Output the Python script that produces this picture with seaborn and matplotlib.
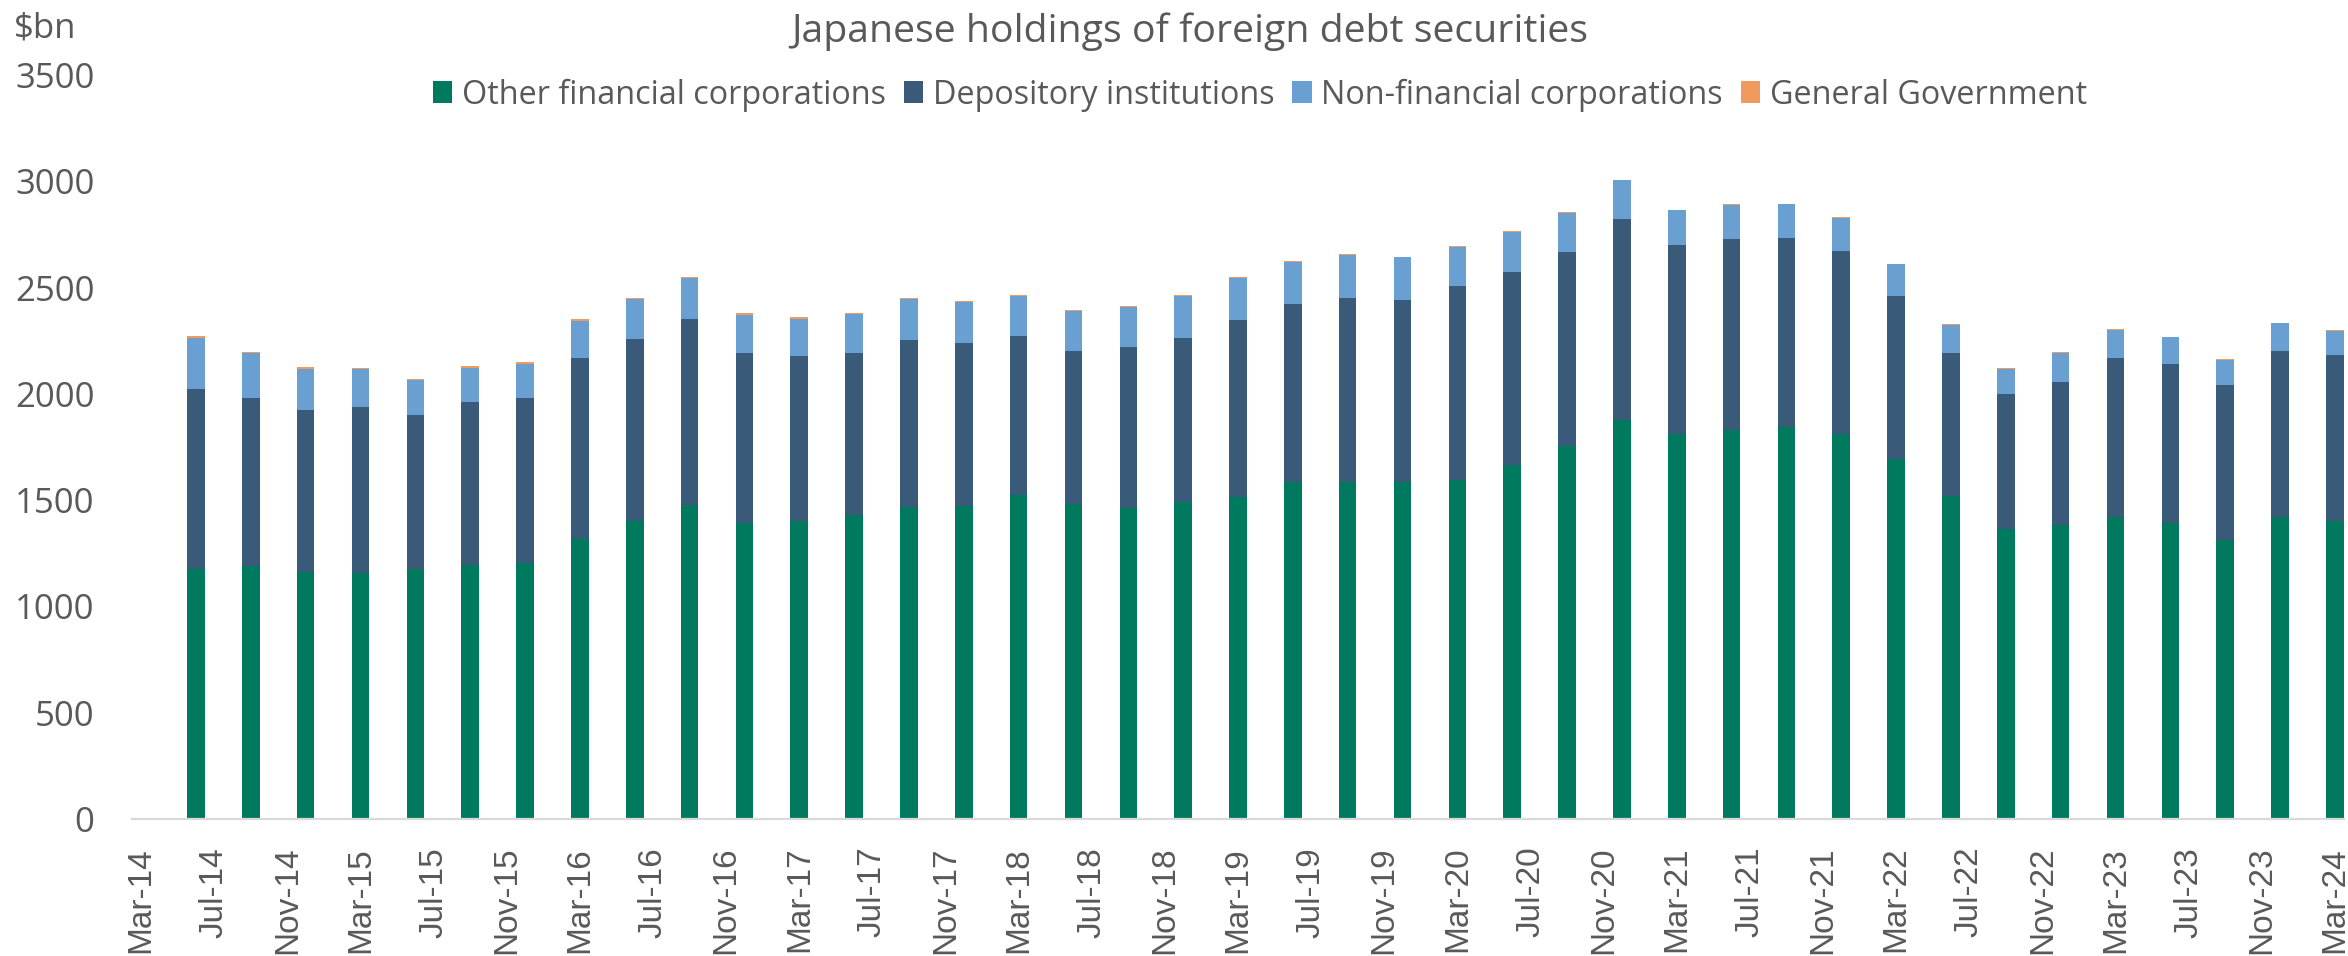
import matplotlib
matplotlib.use("Agg")
import matplotlib.pyplot as plt
from matplotlib.patches import Patch
import numpy as np
import pandas as pd
import seaborn as sns

# Quarter-end observations, Jun-14 .. Mar-24 ($bn)
quarters = pd.date_range("2014-06-01", "2024-03-01", freq="3MS")

other_financial = [1177, 1188, 1162, 1158, 1177, 1194, 1202, 1318, 1404, 1476,
                   1392, 1400, 1431, 1467, 1474, 1522, 1482, 1465, 1490, 1516,
                   1583, 1587, 1583, 1595, 1665, 1753, 1879, 1812, 1831, 1843,
                   1810, 1692, 1518, 1362, 1381, 1419, 1392, 1314, 1421, 1404]
depository = [847, 794, 763, 780, 723, 769, 780, 853, 856, 878,
              802, 776, 759, 788, 767, 748, 721, 756, 774, 830,
              841, 866, 860, 911, 908, 912, 942, 887, 897, 888,
              864, 769, 676, 637, 677, 752, 750, 729, 782, 778]
non_financial = [240, 210, 194, 177, 164, 160, 160, 173, 187, 192,
                 179, 178, 185, 192, 191, 189, 187, 189, 195, 197,
                 197, 200, 199, 187, 187, 187, 183, 164, 160, 161,
                 155, 148, 131, 120, 136, 131, 124, 118, 128, 115]
general_government = [6, 6, 6, 6, 6, 7, 6, 6, 6, 6,
                      6, 6, 6, 5, 5, 6, 5, 5, 6, 6,
                      5, 4, 3, 4, 4, 4, 4, 4, 3, 3,
                      4, 3, 3, 2, 2, 2, 2, 2, 2, 2]

series_names = ["Other financial corporations", "Depository institutions",
                "Non-financial corporations", "General Government"]
series_colors = ["#007A5E", "#3A5A79", "#6A9FD1", "#EF9B60"]

axis_start = pd.Timestamp("2014-03-01")
tick_dates = pd.date_range("2014-03-01", "2024-03-01", freq="4MS")
tick_labels = [d.strftime("%b-%y") for d in tick_dates]


def month_index(dates):
    return np.array([(d.year - axis_start.year) * 12 + d.month - axis_start.month
                     for d in dates], dtype=float)


TEXT = "#595959"
GRID = "#D9D9D9"
W, H = 2348, 956

sns.set_theme(style="white")
plt.rcParams["font.family"] = ["Open Sans", "DejaVu Sans"]

# each month occupies one slot; bars sit in the middle of their month's slot
x_centre = month_index(quarters) + 0.5

df = pd.DataFrame({
    "x": x_centre,
    "s1": np.array(other_financial),
    "s2": np.array(other_financial) + np.array(depository),
})
df["s3"] = df["s2"] + np.array(non_financial)
df["s4"] = df["s3"] + np.array(general_government)

fig = plt.figure(figsize=(W / 100, H / 100), dpi=100)
ax = fig.add_axes([132 / W, 1 - 819 / H, (2344 - 132) / W, (819 - 75) / H])

# cumulative totals drawn from the top layer down give a stacked column chart
for col, color in zip(["s4", "s3", "s2", "s1"], series_colors[::-1]):
    sns.barplot(data=df, x="x", y=col, color=color, saturation=1,
                errorbar=None, native_scale=True, width=0.32,
                linewidth=0, ax=ax)

ax.set_xlim(0, 121)
ax.set_ylim(0, 3500)
ax.set_xlabel("")
ax.set_ylabel("")

for side in ["top", "right", "left"]:
    ax.spines[side].set_visible(False)
ax.spines["bottom"].set_color(GRID)
ax.spines["bottom"].set_linewidth(1.6)

ax.set_yticks(np.arange(0, 3501, 500))
ax.set_yticklabels([str(v) for v in range(0, 3501, 500)])
ax.tick_params(axis="y", length=0, pad=27, labelsize=25, labelcolor=TEXT)
for lab in ax.get_yticklabels():
    lab.set_family(["Open Sans", "DejaVu Sans"])

major = month_index(tick_dates)
ax.set_xticks(major)
ax.set_xticklabels([""] * len(major))
ax.set_xticks(major + 0.5, minor=True)
ax.set_xticklabels(tick_labels, minor=True, rotation=90, ha="center", va="top",
                   family=["Liberation Sans", "DejaVu Sans"])
ax.tick_params(axis="x", which="major", length=9.5, width=1.5, color=GRID)
ax.tick_params(axis="x", which="minor", length=0, pad=20, labelsize=24,
               labelcolor=TEXT)

fig.text(1190 / W, 1 - 32 / H, "Japanese holdings of foreign debt securities",
         ha="center", va="center", fontsize=28.3, color=TEXT,
         family=["Open Sans", "DejaVu Sans"])
fig.text(14 / W, 1 - 29 / H, r"\$bn", ha="left", va="center", fontsize=25,
         color=TEXT, family=["Open Sans", "DejaVu Sans"])

handles = [Patch(facecolor=c, edgecolor="none") for c in series_colors]
leg = ax.legend(handles, series_names, loc="center",
                bbox_to_anchor=(1260 / W, 1 - 95 / H),
                bbox_transform=fig.transFigure, ncol=4, frameon=False,
                fontsize=23.3, handlelength=0.6, handleheight=0.65,
                handletextpad=0.3, columnspacing=0.55, borderpad=0)
for t in leg.get_texts():
    t.set_color(TEXT)

fig.savefig("out.png", dpi=100, facecolor="white")
